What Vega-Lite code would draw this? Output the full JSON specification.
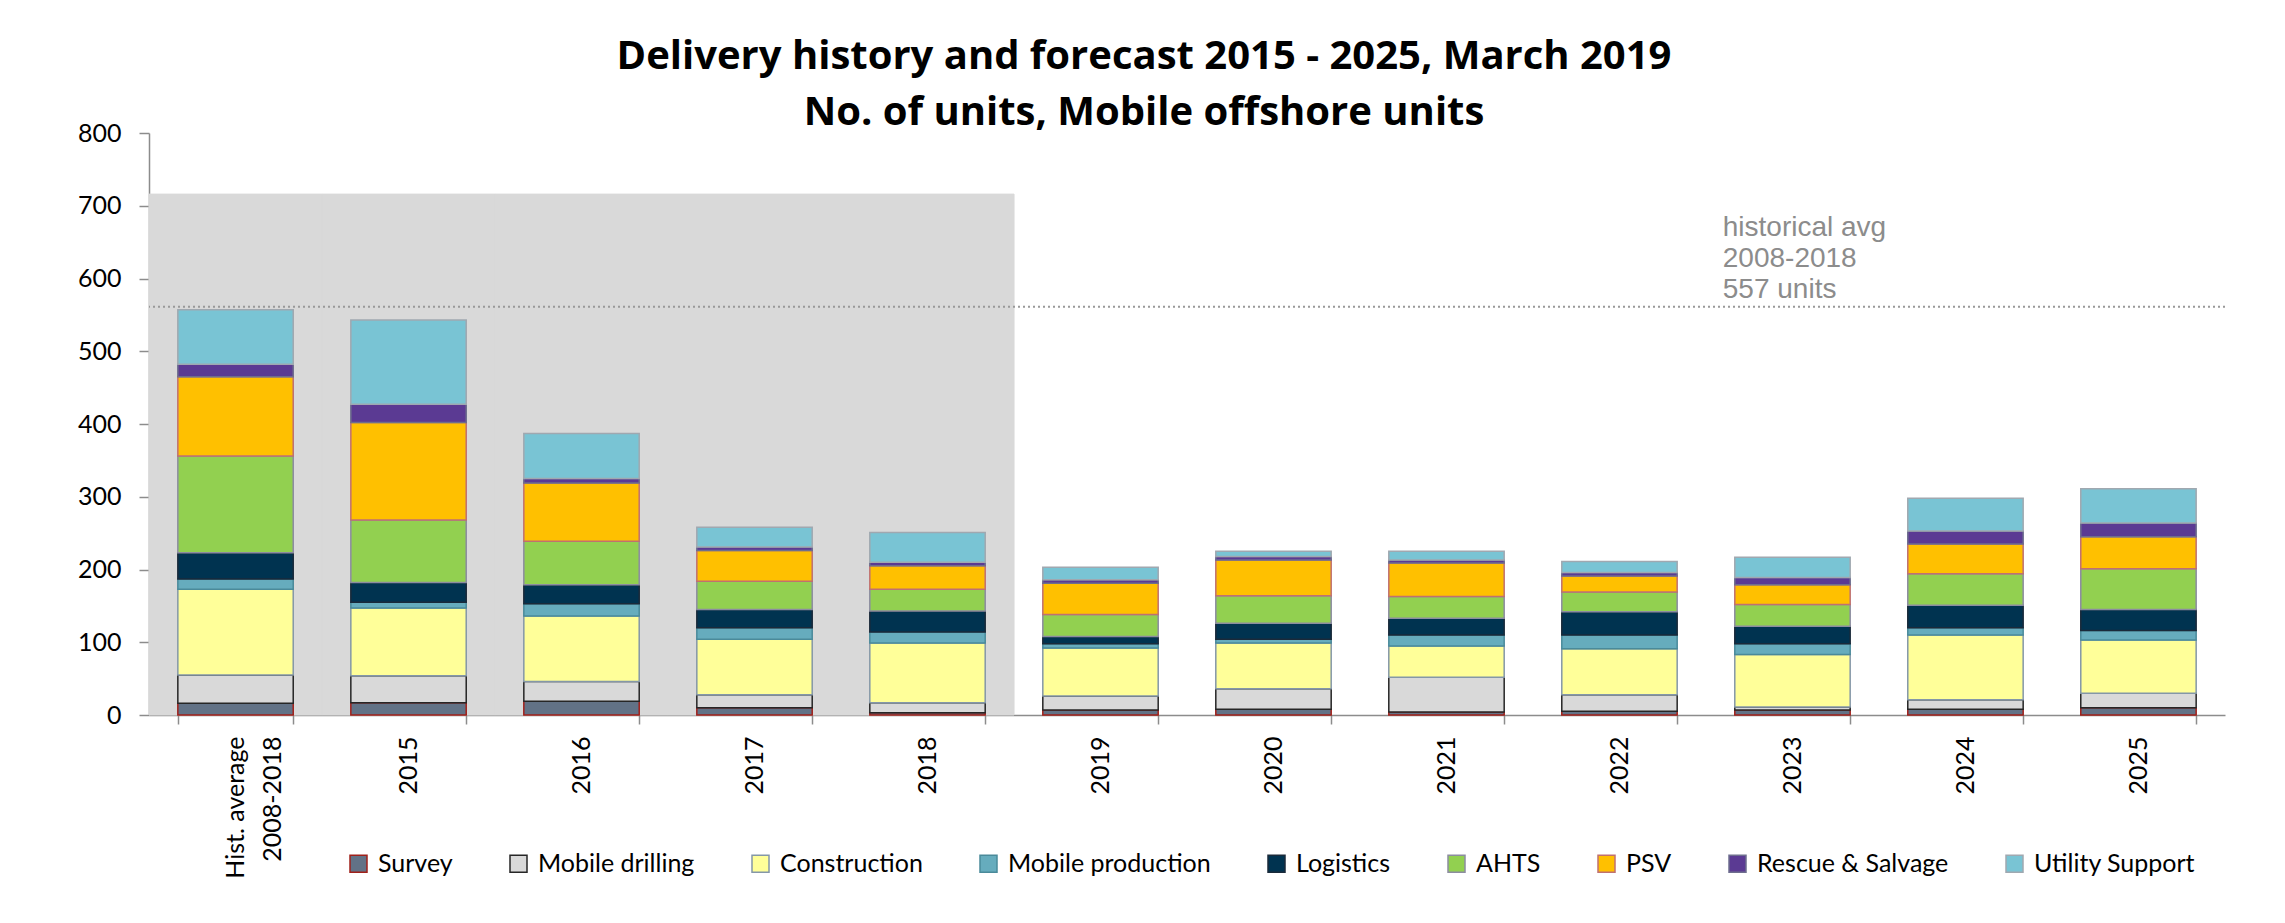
{
  "$schema": "https://vega.github.io/schema/vega-lite/v6.json",
  "width": 2076,
  "height": 582,
  "autosize": {"type": "none"},
  "padding": {"left": 149, "top": 133, "right": 60, "bottom": 208},
  "background": "white",
  "config": {
    "view": {"stroke": null},
    "font": "Lato"
  },
  "title": {
    "text": ["Delivery history and forecast 2015 - 2025, March 2019", "No. of units, Mobile offshore units"],
    "font": "Open Sans",
    "fontWeight": "bold",
    "fontSize": 40,
    "lineHeight": 56,
    "anchor": "middle",
    "dx": -43,
    "offset": -12,
    "color": "#000000"
  },
  "datasets": {
    "bars": [
      {"cat": "Hist. average 2008-2018", "series": "Survey", "value": 16, "order": 1},
      {"cat": "Hist. average 2008-2018", "series": "Mobile drilling", "value": 39, "order": 2},
      {"cat": "Hist. average 2008-2018", "series": "Construction", "value": 118, "order": 3},
      {"cat": "Hist. average 2008-2018", "series": "Mobile production", "value": 14, "order": 4},
      {"cat": "Hist. average 2008-2018", "series": "Logistics", "value": 36, "order": 5},
      {"cat": "Hist. average 2008-2018", "series": "AHTS", "value": 133, "order": 6},
      {"cat": "Hist. average 2008-2018", "series": "PSV", "value": 109, "order": 7},
      {"cat": "Hist. average 2008-2018", "series": "Rescue & Salvage", "value": 17, "order": 8},
      {"cat": "Hist. average 2008-2018", "series": "Utility Support", "value": 75, "order": 9},
      {"cat": "2015", "series": "Survey", "value": 17, "order": 1},
      {"cat": "2015", "series": "Mobile drilling", "value": 37, "order": 2},
      {"cat": "2015", "series": "Construction", "value": 93, "order": 3},
      {"cat": "2015", "series": "Mobile production", "value": 8, "order": 4},
      {"cat": "2015", "series": "Logistics", "value": 27, "order": 5},
      {"cat": "2015", "series": "AHTS", "value": 86, "order": 6},
      {"cat": "2015", "series": "PSV", "value": 134, "order": 7},
      {"cat": "2015", "series": "Rescue & Salvage", "value": 25, "order": 8},
      {"cat": "2015", "series": "Utility Support", "value": 116, "order": 9},
      {"cat": "2016", "series": "Survey", "value": 19, "order": 1},
      {"cat": "2016", "series": "Mobile drilling", "value": 27, "order": 2},
      {"cat": "2016", "series": "Construction", "value": 90, "order": 3},
      {"cat": "2016", "series": "Mobile production", "value": 17, "order": 4},
      {"cat": "2016", "series": "Logistics", "value": 26, "order": 5},
      {"cat": "2016", "series": "AHTS", "value": 60, "order": 6},
      {"cat": "2016", "series": "PSV", "value": 80, "order": 7},
      {"cat": "2016", "series": "Rescue & Salvage", "value": 6, "order": 8},
      {"cat": "2016", "series": "Utility Support", "value": 62, "order": 9},
      {"cat": "2017", "series": "Survey", "value": 10, "order": 1},
      {"cat": "2017", "series": "Mobile drilling", "value": 18, "order": 2},
      {"cat": "2017", "series": "Construction", "value": 76, "order": 3},
      {"cat": "2017", "series": "Mobile production", "value": 16, "order": 4},
      {"cat": "2017", "series": "Logistics", "value": 25, "order": 5},
      {"cat": "2017", "series": "AHTS", "value": 39, "order": 6},
      {"cat": "2017", "series": "PSV", "value": 42, "order": 7},
      {"cat": "2017", "series": "Rescue & Salvage", "value": 5, "order": 8},
      {"cat": "2017", "series": "Utility Support", "value": 27, "order": 9},
      {"cat": "2018", "series": "Survey", "value": 3, "order": 1},
      {"cat": "2018", "series": "Mobile drilling", "value": 14, "order": 2},
      {"cat": "2018", "series": "Construction", "value": 82, "order": 3},
      {"cat": "2018", "series": "Mobile production", "value": 15, "order": 4},
      {"cat": "2018", "series": "Logistics", "value": 29, "order": 5},
      {"cat": "2018", "series": "AHTS", "value": 30, "order": 6},
      {"cat": "2018", "series": "PSV", "value": 32, "order": 7},
      {"cat": "2018", "series": "Rescue & Salvage", "value": 5, "order": 8},
      {"cat": "2018", "series": "Utility Support", "value": 41, "order": 9},
      {"cat": "2019", "series": "Survey", "value": 7, "order": 1},
      {"cat": "2019", "series": "Mobile drilling", "value": 19, "order": 2},
      {"cat": "2019", "series": "Construction", "value": 66, "order": 3},
      {"cat": "2019", "series": "Mobile production", "value": 6, "order": 4},
      {"cat": "2019", "series": "Logistics", "value": 10, "order": 5},
      {"cat": "2019", "series": "AHTS", "value": 30, "order": 6},
      {"cat": "2019", "series": "PSV", "value": 43, "order": 7},
      {"cat": "2019", "series": "Rescue & Salvage", "value": 5, "order": 8},
      {"cat": "2019", "series": "Utility Support", "value": 17, "order": 9},
      {"cat": "2020", "series": "Survey", "value": 8, "order": 1},
      {"cat": "2020", "series": "Mobile drilling", "value": 28, "order": 2},
      {"cat": "2020", "series": "Construction", "value": 63, "order": 3},
      {"cat": "2020", "series": "Mobile production", "value": 5, "order": 4},
      {"cat": "2020", "series": "Logistics", "value": 22, "order": 5},
      {"cat": "2020", "series": "AHTS", "value": 38, "order": 6},
      {"cat": "2020", "series": "PSV", "value": 49, "order": 7},
      {"cat": "2020", "series": "Rescue & Salvage", "value": 5, "order": 8},
      {"cat": "2020", "series": "Utility Support", "value": 7, "order": 9},
      {"cat": "2021", "series": "Survey", "value": 4, "order": 1},
      {"cat": "2021", "series": "Mobile drilling", "value": 48, "order": 2},
      {"cat": "2021", "series": "Construction", "value": 43, "order": 3},
      {"cat": "2021", "series": "Mobile production", "value": 15, "order": 4},
      {"cat": "2021", "series": "Logistics", "value": 23, "order": 5},
      {"cat": "2021", "series": "AHTS", "value": 30, "order": 6},
      {"cat": "2021", "series": "PSV", "value": 46, "order": 7},
      {"cat": "2021", "series": "Rescue & Salvage", "value": 4, "order": 8},
      {"cat": "2021", "series": "Utility Support", "value": 12, "order": 9},
      {"cat": "2022", "series": "Survey", "value": 5, "order": 1},
      {"cat": "2022", "series": "Mobile drilling", "value": 23, "order": 2},
      {"cat": "2022", "series": "Construction", "value": 63, "order": 3},
      {"cat": "2022", "series": "Mobile production", "value": 19, "order": 4},
      {"cat": "2022", "series": "Logistics", "value": 32, "order": 5},
      {"cat": "2022", "series": "AHTS", "value": 27, "order": 6},
      {"cat": "2022", "series": "PSV", "value": 22, "order": 7},
      {"cat": "2022", "series": "Rescue & Salvage", "value": 5, "order": 8},
      {"cat": "2022", "series": "Utility Support", "value": 15, "order": 9},
      {"cat": "2023", "series": "Survey", "value": 7, "order": 1},
      {"cat": "2023", "series": "Mobile drilling", "value": 4, "order": 2},
      {"cat": "2023", "series": "Construction", "value": 72, "order": 3},
      {"cat": "2023", "series": "Mobile production", "value": 15, "order": 4},
      {"cat": "2023", "series": "Logistics", "value": 24, "order": 5},
      {"cat": "2023", "series": "AHTS", "value": 30, "order": 6},
      {"cat": "2023", "series": "PSV", "value": 27, "order": 7},
      {"cat": "2023", "series": "Rescue & Salvage", "value": 10, "order": 8},
      {"cat": "2023", "series": "Utility Support", "value": 28, "order": 9},
      {"cat": "2024", "series": "Survey", "value": 8, "order": 1},
      {"cat": "2024", "series": "Mobile drilling", "value": 13, "order": 2},
      {"cat": "2024", "series": "Construction", "value": 89, "order": 3},
      {"cat": "2024", "series": "Mobile production", "value": 10, "order": 4},
      {"cat": "2024", "series": "Logistics", "value": 31, "order": 5},
      {"cat": "2024", "series": "AHTS", "value": 43, "order": 6},
      {"cat": "2024", "series": "PSV", "value": 41, "order": 7},
      {"cat": "2024", "series": "Rescue & Salvage", "value": 18, "order": 8},
      {"cat": "2024", "series": "Utility Support", "value": 45, "order": 9},
      {"cat": "2025", "series": "Survey", "value": 10, "order": 1},
      {"cat": "2025", "series": "Mobile drilling", "value": 20, "order": 2},
      {"cat": "2025", "series": "Construction", "value": 73, "order": 3},
      {"cat": "2025", "series": "Mobile production", "value": 13, "order": 4},
      {"cat": "2025", "series": "Logistics", "value": 29, "order": 5},
      {"cat": "2025", "series": "AHTS", "value": 56, "order": 6},
      {"cat": "2025", "series": "PSV", "value": 44, "order": 7},
      {"cat": "2025", "series": "Rescue & Salvage", "value": 19, "order": 8},
      {"cat": "2025", "series": "Utility Support", "value": 47, "order": 9}
    ],
    "shade": [
      {"cat": "Hist. average 2008-2018", "top": 716},
      {"cat": "2015", "top": 716},
      {"cat": "2016", "top": 716},
      {"cat": "2017", "top": 716},
      {"cat": "2018", "top": 716}
    ],
    "avg": [{"avg": 561}],
    "note": [{"cat": "2023", "y": 659, "label": "historical avg\n2008-2018\n557 units"}]
  },
  "layer": [
    {
      "data": {"name": "shade"},
      "mark": {"type": "bar", "color": "#D9D9D9", "stroke": "#D9D9D9", "strokeWidth": 1, "width": {"band": 1.5}},
      "encoding": {
        "x": {
          "field": "cat", "type": "nominal", "sort": null,
          "scale": {
            "domain": ["Hist. average 2008-2018", "2015", "2016", "2017", "2018", "2019", "2020", "2021", "2022", "2023", "2024", "2025"],
            "paddingInner": 0.333, "paddingOuter": 0.1667
          },
          "axis": {
            "title": null,
            "labelAngle": -90,
            "tickBand": "extent",
            "tickSize": 9,
            "labelPadding": 12,
            "labelFont": "Lato",
            "labelFontSize": 25,
            "labelColor": "#000000",
            "labelLineHeight": 37,
            "labelLimit": 400,
            "domainColor": "#8C8C8C",
            "domainWidth": 1.5,
            "tickColor": "#8C8C8C",
            "tickWidth": 1.5,
            "grid": false,
            "labelExpr": "datum.label == 'Hist. average 2008-2018' ? ['Hist. average', '2008-2018'] : datum.label"
          }
        },
        "y": {
          "field": "top", "type": "quantitative",
          "scale": {"domain": [0, 800], "nice": false, "zero": true},
          "axis": {
            "title": null,
            "values": [0, 100, 200, 300, 400, 500, 600, 700, 800],
            "tickSize": 10,
            "labelPadding": 18,
            "labelFont": "Lato",
            "labelFontSize": 25,
            "labelColor": "#000000",
            "domainColor": "#8C8C8C",
            "domainWidth": 1.5,
            "tickColor": "#8C8C8C",
            "tickWidth": 1.5,
            "grid": false
          }
        }
      }
    },
    {
      "data": {"name": "bars"},
      "mark": {"type": "bar", "strokeWidth": 1.5},
      "encoding": {
        "x": {"field": "cat", "type": "nominal", "sort": null},
        "y": {"field": "value", "type": "quantitative", "stack": "zero"},
        "order": {"field": "order", "type": "quantitative"},
        "fill": {
          "field": "series", "type": "nominal",
          "scale": {
            "domain": ["Survey", "Mobile drilling", "Construction", "Mobile production", "Logistics", "AHTS", "PSV", "Rescue & Salvage", "Utility Support"],
            "range": ["#627286", "#D9D9D9", "#FFFF99", "#66ACBD", "#003350", "#92D050", "#FFC000", "#5B3A93", "#79C4D4"]
          },
          "legend": {
            "orient": "none",
            "legendX": 197,
            "legendY": 718,
            "direction": "horizontal",
            "title": null,
            "symbolType": "square",
            "symbolSize": 289,
            "symbolStrokeWidth": 1.5,
            "symbolOpacity": 1,
            "labelFont": "Lato",
            "labelFontSize": 25,
            "labelColor": "#000000",
            "labelOffset": 7,
            "labelLimit": 400,
            "columnPadding": 53
          }
        },
        "stroke": {
          "field": "series", "type": "nominal",
          "scale": {
            "domain": ["Survey", "Mobile drilling", "Construction", "Mobile production", "Logistics", "AHTS", "PSV", "Rescue & Salvage", "Utility Support"],
            "range": ["#A0201A", "#262626", "#8497A8", "#4A8A9A", "#1A2A3A", "#8C8CA0", "#C07070", "#6E6E8E", "#A0A8B0"]
          },
          "legend": {
            "orient": "none",
            "legendX": 197,
            "legendY": 718,
            "direction": "horizontal",
            "title": null,
            "symbolType": "square",
            "symbolSize": 289,
            "symbolStrokeWidth": 1.5,
            "symbolOpacity": 1,
            "labelFont": "Lato",
            "labelFontSize": 25,
            "labelColor": "#000000",
            "labelOffset": 7,
            "labelLimit": 400,
            "columnPadding": 53
          }
        }
      }
    },
    {
      "data": {"name": "avg"},
      "mark": {"type": "rule", "color": "#999999", "strokeWidth": 2, "strokeDash": [2, 3]},
      "encoding": {
        "y": {"field": "avg", "type": "quantitative"}
      }
    },
    {
      "data": {"name": "note"},
      "mark": {"type": "text", "align": "left", "baseline": "alphabetic", "font": "Liberation Sans", "fontSize": 28, "lineHeight": 31, "color": "#8C8C8C", "lineBreak": "\n", "dx": -12},
      "encoding": {
        "x": {"field": "cat", "type": "nominal", "bandPosition": 0},
        "y": {"field": "y", "type": "quantitative"},
        "text": {"field": "label"}
      }
    }
  ]
}
